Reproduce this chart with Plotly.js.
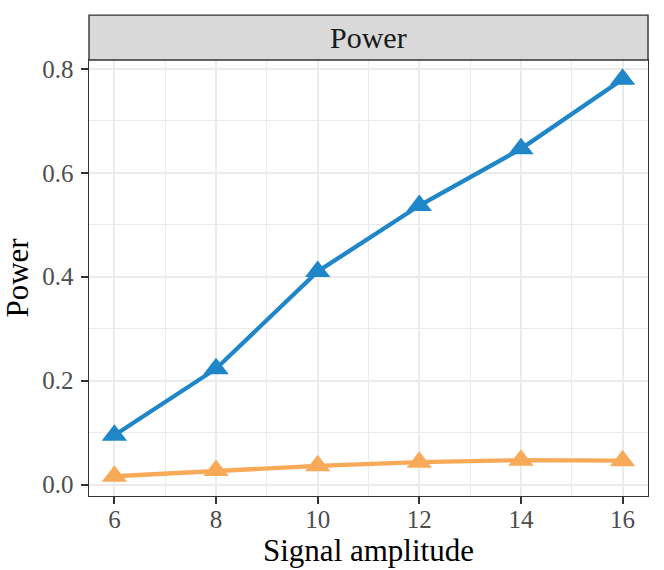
<!DOCTYPE html>
<html>
<head>
<meta charset="utf-8">
<script src="https://cdn.plot.ly/plotly-3.0.1.min.js"></script>
<style>
  html, body { margin: 0; padding: 0; background: #fff; }
  #chart { width: 664px; height: 570px; }
</style>
</head>
<body>
<div id="chart"></div>
<script>
// signal amplitudes on the x axis
var amplitude = [6, 8, 10, 12, 14, 16];

// power of the two methods
var powerBlue = [0.095, 0.223, 0.410, 0.537, 0.646, 0.780];
var powerOrange = [0.016, 0.027, 0.036, 0.043, 0.047, 0.046];

var xTicks = [6, 8, 10, 12, 14, 16];
var yTicks = [0.0, 0.2, 0.4, 0.6, 0.8];
var yTickLabels = ['0.0', '0.2', '0.4', '0.6', '0.8'];

var serif = "'Liberation Serif'";

function series(y, colour) {
  return {
    x: amplitude,
    y: y,
    mode: 'lines+markers',
    type: 'scatter',
    line: {color: colour, width: 4.3},
    marker: {symbol: 'triangle-up', size: 22, color: colour, line: {width: 0}},
    hoverinfo: 'x+y',
    showlegend: false
  };
}

var traces = [
  series(powerOrange, '#f9aa59'),
  series(powerBlue, '#1f86c8')
];

var axisCommon = {
  showline: true,
  mirror: true,
  linecolor: '#333333',
  linewidth: 1.4,
  ticks: 'outside',
  ticklen: 7,
  tickwidth: 2,
  tickcolor: '#333333',
  tickfont: {family: serif, size: 25, color: '#4d4d4d'},
  showgrid: true,
  gridcolor: '#ebebeb',
  gridwidth: 2,
  zeroline: false,
  automargin: false
};

var layout = {
  width: 664,
  height: 570,
  margin: {l: 89, r: 16, t: 60, b: 74},
  paper_bgcolor: '#ffffff',
  plot_bgcolor: '#ffffff',
  font: {family: serif},
  xaxis: Object.assign({}, axisCommon, {
    range: [5.5, 16.5],
    tickvals: xTicks,
    ticklabelstandoff: -6,
    minor: {dtick: 1, tick0: 5, showgrid: true, gridcolor: '#ebebeb', gridwidth: 1, ticks: ''},
    title: {text: 'Signal amplitude', font: {family: serif, size: 31, color: '#000000'}, standoff: 3}
  }),
  yaxis: Object.assign({}, axisCommon, {
    range: [-0.022, 0.817],
    tickvals: yTicks,
    ticktext: yTickLabels,
    ticklabelstandoff: 2,
    minor: {dtick: 0.1, tick0: 0.1, showgrid: true, gridcolor: '#ebebeb', gridwidth: 1, ticks: ''},
    title: {text: 'Power', font: {family: serif, size: 31, color: '#000000'}, standoff: 4}
  }),
  shapes: [{
    type: 'rect', xref: 'paper', yref: 'paper',
    x0: 0, x1: 1, y0: 1, y1: 1.103,
    fillcolor: '#d9d9d9',
    line: {color: '#333333', width: 1.4}
  }],
  annotations: [{
    text: 'Power', xref: 'paper', yref: 'paper',
    x: 0.5, y: 1.0515, xanchor: 'center', yanchor: 'middle',
    showarrow: false,
    font: {family: serif, size: 30, color: '#1a1a1a'}
  }]
};

Plotly.newPlot('chart', traces, layout, {displayModeBar: false, staticPlot: true});
</script>
</body>
</html>
